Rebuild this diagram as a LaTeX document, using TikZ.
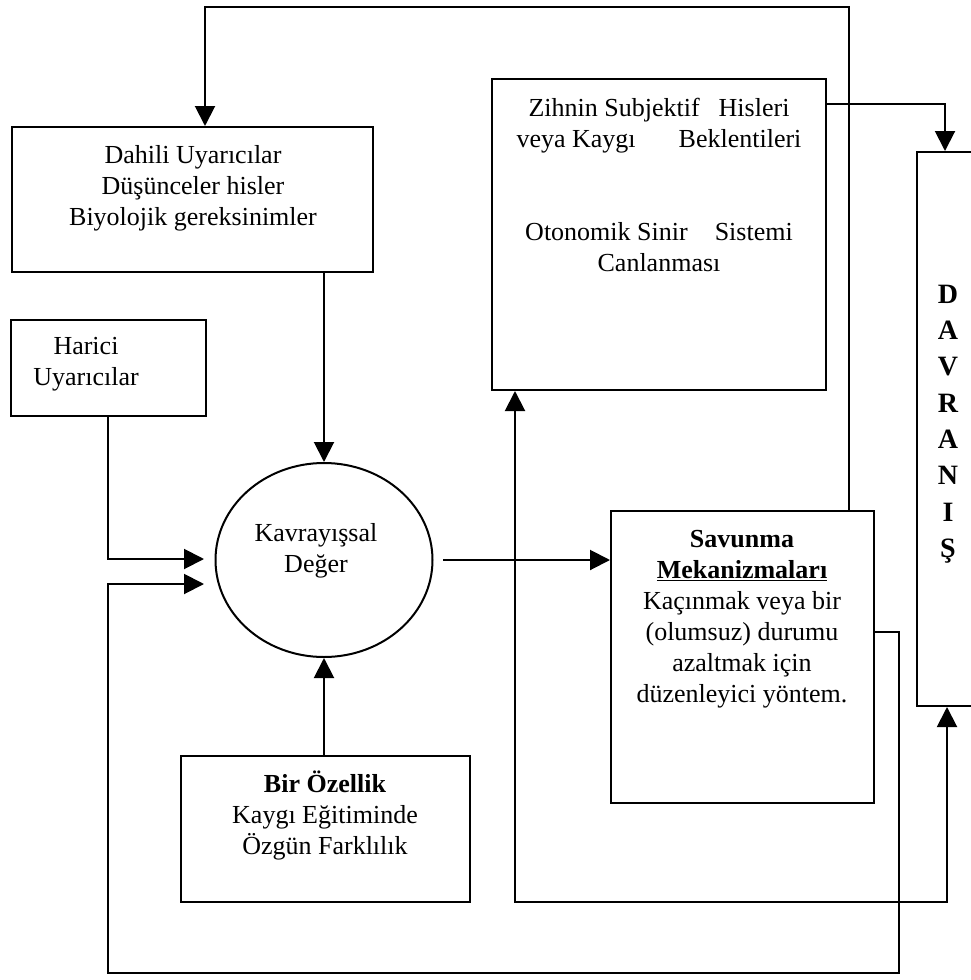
\documentclass[tikz,border=0pt]{standalone}
\usepackage{fontspec}
\setmainfont{Liberation Serif}
\usetikzlibrary{arrows.meta,shapes.geometric}
\begin{document}
\begin{tikzpicture}[x=1pt,y=-1pt,
  line width=2pt,
  box/.style={draw,line width=2pt,inner sep=0pt,rectangle},
  txt/.style={align=center,font=\fontsize{26}{31}\selectfont,inner sep=0pt},
  arr/.style={-{Triangle[length=20pt,width=20pt]}},
  darr/.style={{Triangle[length=20pt,width=20pt]}-{Triangle[length=20pt,width=20pt]}},
]
\useasboundingbox (0,0) rectangle (971,980);
\clip (0,0) rectangle (971,980);
\fill[white] (0,0) rectangle (971,980);

% boxes
\node[box,minimum width=361pt,minimum height=145pt] (dahili) at (192.5,199.5) {};
\node[box,minimum width=195pt,minimum height=96pt] (harici) at (108,368) {};
\node[box,minimum width=334pt,minimum height=311pt] (zihnin) at (659,234.5) {};
\node[box,minimum width=62pt,minimum height=554pt] (davr) at (948,429) {};
\node[box,minimum width=263pt,minimum height=292pt] (sav) at (742.5,657) {};
\node[box,minimum width=289pt,minimum height=146pt] (bir) at (325.5,829) {};
\node[draw,ellipse,line width=2pt,inner sep=0pt,minimum width=217pt,minimum height=194pt] (circ) at (324,560) {};

% texts
\node[txt] (tdahili) at (193,188) {Dahili Uyarıcılar\\Düşünceler hisler\\Biyolojik gereksinimler};
\node[txt] (tharici) at (86,364) {Harici\\Uyarıcılar};
\node[txt] (tzihnin) at (659,185) {Zihnin Subjektif\hspace{19pt}Hisleri\\veya Kaygı\hspace{43pt}Beklentileri\\[62pt]Otonomik Sinir\hspace{27pt}Sistemi\\Canlanması};
\node[txt] (tcirc) at (316,551) {Kavrayışsal\\Değer};
\node[txt] (tsav) at (742,619) {\textbf{Savunma}\\\textbf{\underline{Mekanizmaları}}\\Kaçınmak veya bir\\(olumsuz) durumu\\azaltmak için\\düzenleyici yöntem.};
\node[txt] (tbir) at (325,815.5) {\textbf{Bir Özellik}\\Kaygı Eğitiminde\\Özgün Farklılık};
\node[align=center,inner sep=0pt,font=\fontsize{28}{36.3}\selectfont\bfseries] (tdavr) at (948,424) {D\\A\\V\\R\\A\\N\\I\\Ş};

% coordinates for connector bends
\coordinate (topR) at (849,7);
\coordinate (topL) at (205,7);
\coordinate (zr) at (945,104);
\coordinate (in1) at (204,559);
\coordinate (in2) at (204,584);
\coordinate (cout) at (443,560);
\coordinate (s1) at (899,632);
\coordinate (s2) at (899,973);
\coordinate (s3) at (108,973);
\coordinate (d1) at (515,902);
\coordinate (d2) at (947,902);

% connectors
\draw[arr] (sav.north -| topR) -- (topR) -- (topL) -- (topL |- dahili.north);
\draw[arr] (zihnin.east |- zr) -- (zr) -- (zr |- davr.north);
\draw[arr] (circ.north |- dahili.south) -- (circ.north);
\draw[arr] (harici.south) -- (harici.south |- in1) -- (in1);
\draw[arr] (sav.east |- s1) -- (s1) -- (s2) -- (s3) -- (s3 |- in2) -- (in2);
\draw[arr] (cout) -- (cout -| sav.west);
\draw[arr] (circ.south |- bir.north) -- (circ.south);
\draw[darr] (d1 |- zihnin.south) -- (d1) -- (d2) -- (d2 |- davr.south);
\end{tikzpicture}
\end{document}
